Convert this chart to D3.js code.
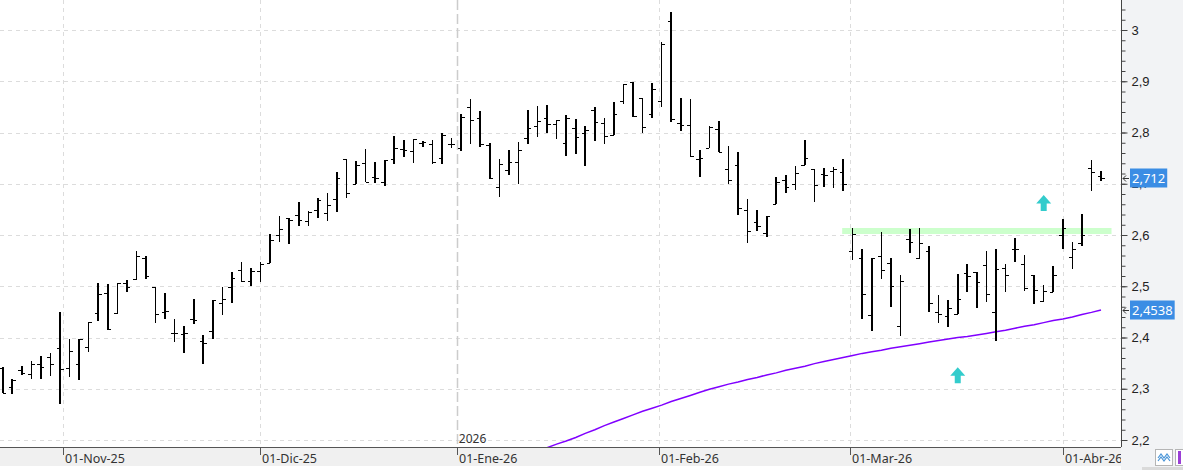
<!DOCTYPE html>
<html>
<head>
<meta charset="utf-8">
<script src="https://cdn.jsdelivr.net/npm/d3@7"></script>
<style>
  body { margin: 0; background: #fff; }
  svg { display: block; font-family: "Noto Sans", "DejaVu Sans", sans-serif; }
</style>
</head>
<body>
<div class="main"></div>
<script>
////Global Variables
const width = 1183;
const height = 470;
const plotRight = 1121;
const plotBottom = 447;

// daily bars, one per trading day
const opens = [2.340, 2.304, 2.336, 2.328, 2.348, 2.362, 2.379, 2.340, 2.348, 2.381,
  2.448, 2.486, 2.448, 2.507, 2.514, 2.556, 2.498, 2.450, 2.409, 2.406,
  2.437, 2.393, 2.413, 2.468, 2.498, 2.531, 2.510, 2.530, 2.545, 2.600,
  2.633, 2.639, 2.627, 2.649, 2.642, 2.670, 2.748, 2.699, 2.740, 2.714,
  2.703, 2.748, 2.768, 2.764, 2.779, 2.778, 2.750, 2.777, 2.769, 2.849,
  2.828, 2.776, 2.693, 2.727, 2.743, 2.789, 2.813, 2.828, 2.816, 2.779,
  2.808, 2.800, 2.843, 2.818, 2.796, 2.861, 2.899, 2.868, 2.837, 2.861,
  3.018, 2.819, 2.815, 2.748, 2.769, 2.806, 2.728, 2.737, 2.649, 2.625,
  2.603, 2.660, 2.707, 2.699, 2.737, 2.728, 2.719, 2.724, 2.722, 2.569,
  2.555, 2.444, 2.559, 2.546, 2.422, 2.592, 2.555, 2.569, 2.449, 2.442,
  2.445, 2.526, 2.527, 2.541, 2.449, 2.535, 2.572, 2.543, 2.522, 2.471,
  2.488, 2.600, 2.558, 2.584, 2.730, 2.715];
const highs = [2.342, 2.320, 2.344, 2.354, 2.364, 2.370, 2.450, 2.398, 2.397, 2.431,
  2.507, 2.504, 2.507, 2.512, 2.569, 2.559, 2.498, 2.487, 2.436, 2.422,
  2.475, 2.405, 2.473, 2.499, 2.527, 2.547, 2.535, 2.547, 2.601, 2.637,
  2.634, 2.664, 2.647, 2.673, 2.681, 2.722, 2.748, 2.744, 2.767, 2.742,
  2.746, 2.793, 2.785, 2.787, 2.783, 2.785, 2.800, 2.790, 2.837, 2.865,
  2.842, 2.779, 2.748, 2.766, 2.781, 2.844, 2.852, 2.854, 2.824, 2.834,
  2.826, 2.813, 2.849, 2.829, 2.859, 2.894, 2.899, 2.868, 2.897, 2.976,
  3.035, 2.867, 2.865, 2.766, 2.813, 2.822, 2.774, 2.761, 2.670, 2.649,
  2.637, 2.713, 2.718, 2.735, 2.785, 2.728, 2.730, 2.733, 2.748, 2.613,
  2.573, 2.555, 2.605, 2.555, 2.522, 2.612, 2.614, 2.579, 2.483, 2.473,
  2.524, 2.543, 2.527, 2.569, 2.573, 2.543, 2.595, 2.561, 2.522, 2.502,
  2.539, 2.631, 2.586, 2.641, 2.746, 2.725];
const lows = [2.291, 2.289, 2.326, 2.320, 2.320, 2.324, 2.270, 2.322, 2.317, 2.372,
  2.432, 2.414, 2.445, 2.489, 2.512, 2.514, 2.429, 2.437, 2.392, 2.370,
  2.426, 2.348, 2.398, 2.443, 2.467, 2.508, 2.501, 2.509, 2.545, 2.586,
  2.582, 2.618, 2.618, 2.634, 2.628, 2.644, 2.673, 2.699, 2.703, 2.701,
  2.696, 2.738, 2.753, 2.740, 2.772, 2.738, 2.738, 2.770, 2.763, 2.778,
  2.772, 2.709, 2.675, 2.718, 2.699, 2.778, 2.792, 2.800, 2.787, 2.755,
  2.758, 2.735, 2.784, 2.778, 2.796, 2.855, 2.830, 2.800, 2.828, 2.850,
  2.820, 2.802, 2.752, 2.714, 2.769, 2.761, 2.699, 2.640, 2.584, 2.608,
  2.596, 2.660, 2.681, 2.687, 2.737, 2.664, 2.694, 2.692, 2.686, 2.551,
  2.437, 2.413, 2.514, 2.460, 2.402, 2.564, 2.555, 2.450, 2.428, 2.420,
  2.445, 2.488, 2.458, 2.469, 2.394, 2.488, 2.547, 2.490, 2.465, 2.471,
  2.488, 2.572, 2.533, 2.579, 2.686, 2.705];
const closes = [2.292, 2.317, 2.330, 2.348, 2.342, 2.348, 2.338, 2.374, 2.397, 2.431,
  2.485, 2.417, 2.507, 2.499, 2.560, 2.520, 2.446, 2.452, 2.408, 2.408,
  2.434, 2.390, 2.473, 2.476, 2.517, 2.510, 2.530, 2.543, 2.590, 2.612,
  2.629, 2.629, 2.644, 2.668, 2.659, 2.711, 2.681, 2.736, 2.703, 2.712,
  2.746, 2.769, 2.766, 2.787, 2.781, 2.742, 2.795, 2.777, 2.830, 2.824,
  2.777, 2.711, 2.738, 2.743, 2.765, 2.808, 2.822, 2.816, 2.824, 2.828,
  2.791, 2.805, 2.820, 2.793, 2.837, 2.894, 2.833, 2.810, 2.884, 2.973,
  2.826, 2.815, 2.755, 2.750, 2.811, 2.761, 2.707, 2.653, 2.608, 2.618,
  2.637, 2.703, 2.693, 2.720, 2.750, 2.697, 2.717, 2.728, 2.699, 2.601,
  2.484, 2.555, 2.532, 2.500, 2.510, 2.586, 2.585, 2.468, 2.445, 2.457,
  2.476, 2.520, 2.508, 2.484, 2.533, 2.521, 2.572, 2.496, 2.493, 2.491,
  2.521, 2.613, 2.572, 2.600, 2.722, 2.712];

// moving average, starts at bar 57
const maStart = 57;
const maValues = [2.185, 2.192, 2.198, 2.205, 2.213, 2.220, 2.228, 2.235, 2.242, 2.249,
  2.256, 2.262, 2.268, 2.275, 2.281, 2.287, 2.293, 2.299, 2.304, 2.309,
  2.313, 2.318, 2.322, 2.327, 2.331, 2.336, 2.340, 2.344, 2.349, 2.353,
  2.357, 2.361, 2.365, 2.369, 2.372, 2.375, 2.379, 2.382, 2.385, 2.388,
  2.391, 2.394, 2.397, 2.400, 2.402, 2.405, 2.408, 2.411, 2.414, 2.418,
  2.422, 2.425, 2.429, 2.433, 2.436, 2.440, 2.445, 2.449, 2.4538];

const monthLabels = ['01-Nov-25', '01-Dic-25', '01-Ene-26', '01-Feb-26', '01-Mar-26', '01-Abr-26'];
const monthIndex = [6.33, 26.95, 47.55, 68.72, 88.72, 111];
const yearLabel = '2026';
const yearMonth = 2;

const yTicks = [2.2, 2.3, 2.4, 2.5, 2.6, 2.7, 2.8, 2.9, 3.0];

const resistanceLevel = 2.608;
const resistanceSpan = [87.9, 116.1];

const arrowIndex = [100, 109];
const arrowValue = [2.342, 2.678];

const lastValues = [2.712, 2.4538];
const lastTexts = ['2,712', '2,4538'];

const svg = d3.select('.main').append('svg')
  .attr('width', width)
  .attr('height', height);

const x = d3.scaleLinear()
  .domain([0, opens.length - 1])
  .range([2.7, 1101]);

const y = d3.scaleLinear()
  .domain([2.2, 3.0])
  .range([440, 30]);

const snap = v => Math.round(v) + 0.5;

svg.append('clipPath').attr('id', 'plot-clip')
  .append('rect').attr('x', 0).attr('y', 0).attr('width', plotRight).attr('height', plotBottom);

svg.append('clipPath').attr('id', 'label-clip')
  .append('rect').attr('x', 0).attr('y', plotBottom).attr('width', plotRight).attr('height', 20);

// panels
svg.append('rect').attr('x', plotRight).attr('y', 0).attr('width', width - plotRight).attr('height', height)
  .attr('fill', '#f2f3f5');
svg.append('rect').attr('x', 0).attr('y', plotBottom).attr('width', plotRight).attr('height', 19)
  .attr('fill', '#f0f0f0');
svg.append('rect').attr('x', 1142).attr('y', 467).attr('width', width - 1142).attr('height', 3)
  .attr('fill', '#dadada');

const plot = svg.append('g').attr('clip-path', 'url(#plot-clip)');

// grid
plot.selectAll('.hgrid')
  .data(yTicks)
  .enter()
  .append('line')
  .attr('class', 'hgrid')
  .attr('x1', 0).attr('x2', plotRight)
  .attr('y1', d => snap(y(d))).attr('y2', d => snap(y(d)))
  .attr('stroke', '#dcdcdc')
  .attr('stroke-dasharray', '4,4');

plot.selectAll('.vgrid')
  .data(monthIndex)
  .enter()
  .append('line')
  .attr('class', 'vgrid')
  .attr('x1', d => snap(x(d))).attr('x2', d => snap(x(d)))
  .attr('y1', 0).attr('y2', plotBottom)
  .attr('stroke', (d, i) => i === yearMonth ? '#cccccc' : '#dcdcdc')
  .attr('stroke-width', (d, i) => i === yearMonth ? 1.5 : 1)
  .attr('stroke-dasharray', (d, i) => i === yearMonth ? '10,4' : '4,4');

plot.append('text')
  .attr('x', x(monthIndex[yearMonth]) + 2)
  .attr('y', 443)
  .attr('font-size', 12)
  .attr('fill', '#333')
  .text(yearLabel);

// resistance band
plot.append('line')
  .attr('x1', x(resistanceSpan[0])).attr('x2', x(resistanceSpan[1]))
  .attr('y1', y(resistanceLevel)).attr('y2', y(resistanceLevel))
  .attr('stroke', '#ccffcc')
  .attr('stroke-width', 6);

// moving average
const maLine = d3.line()
  .x((d, k) => x(maStart + k))
  .y(d => y(d));

plot.append('path')
  .datum(maValues)
  .attr('d', maLine)
  .attr('fill', 'none')
  .attr('stroke', '#8000ff')
  .attr('stroke-width', 1.5);

// OHLC bars
const bars = plot.selectAll('.bar')
  .data(opens.map((o, i) => ({ i, o, h: highs[i], l: lows[i], c: closes[i] })))
  .enter()
  .append('g')
  .attr('class', 'bar')
  .attr('stroke', '#000')
  .attr('shape-rendering', 'crispEdges');

bars.append('line')
  .attr('x1', d => x(d.i)).attr('x2', d => x(d.i))
  .attr('y1', d => y(d.h)).attr('y2', d => y(d.l))
  .attr('stroke-width', 1.6);

bars.append('line')
  .attr('x1', d => x(d.i) - 3.5).attr('x2', d => x(d.i))
  .attr('y1', d => snap(y(d.o))).attr('y2', d => snap(y(d.o)))
  .attr('stroke-width', 1);

bars.append('line')
  .attr('x1', d => x(d.i)).attr('x2', d => x(d.i) + 3.5)
  .attr('y1', d => snap(y(d.c))).attr('y2', d => snap(y(d.c)))
  .attr('stroke-width', 1);

// signal arrows
plot.selectAll('.arrow')
  .data(arrowIndex)
  .enter()
  .append('path')
  .attr('class', 'arrow')
  .attr('d', (d, k) => {
    const cx = x(d), ty = y(arrowValue[k]);
    return `M${cx},${ty} L${cx + 7.5},${ty + 8.5} L${cx + 3},${ty + 8.5} L${cx + 3},${ty + 16}
            L${cx - 3},${ty + 16} L${cx - 3},${ty + 8.5} L${cx - 7.5},${ty + 8.5} Z`;
  })
  .attr('fill', '#33cccc');

// x axis
svg.append('line')
  .attr('x1', 0).attr('x2', plotRight)
  .attr('y1', plotBottom + 0.5).attr('y2', plotBottom + 0.5)
  .attr('stroke', '#555');

svg.selectAll('.xtick')
  .data(monthIndex)
  .enter()
  .append('line')
  .attr('class', 'xtick')
  .attr('x1', d => snap(x(d))).attr('x2', d => snap(x(d)))
  .attr('y1', plotBottom).attr('y2', plotBottom + 8)
  .attr('stroke', '#555');

svg.append('g')
  .attr('clip-path', 'url(#label-clip)')
  .selectAll('text')
  .data(monthLabels)
  .enter()
  .append('text')
  .attr('x', (d, i) => Math.round(x(monthIndex[i])) + 2)
  .attr('y', 463)
  .attr('font-size', 12.5)
  .attr('fill', '#333')
  .text(d => d);

// y axis
const fmt = d => String(+d.toFixed(1)).replace('.', ',');

const minorAxis = d3.axisRight(y)
  .tickValues(d3.range(2.18, 3.05, 0.02).filter(v => y(v) >= 0 && y(v) <= plotBottom))
  .tickSize(4)
  .tickFormat('');

svg.append('g')
  .attr('transform', `translate(${plotRight + 0.5}, 0)`)
  .call(minorAxis)
  .call(g => g.select('.domain').remove())
  .call(g => g.selectAll('line').attr('stroke', '#444'));

const yAxis = d3.axisRight(y)
  .tickValues(yTicks)
  .tickSize(6)
  .tickPadding(4)
  .tickFormat(fmt);

svg.append('g')
  .attr('transform', `translate(${plotRight + 0.5}, 0)`)
  .call(yAxis)
  .call(g => g.select('.domain').remove())
  .call(g => g.selectAll('line').attr('stroke', '#444'))
  .call(g => g.selectAll('text').attr('font-size', 13).attr('fill', '#222').attr('font-family', null));

svg.append('line')
  .attr('x1', plotRight + 0.5).attr('x2', plotRight + 0.5)
  .attr('y1', 0).attr('y2', plotBottom)
  .attr('stroke', '#444');

// last value labels
const tags = svg.selectAll('.tag')
  .data(lastValues)
  .enter()
  .append('g')
  .attr('class', 'tag')
  .attr('transform', d => `translate(0, ${Math.round(y(d))})`);

const tagBoxes = tags.append('rect')
  .attr('x', 1130)
  .attr('y', -9.5)
  .attr('height', 19)
  .attr('fill', '#3b8de4');

const tagTexts = tags.append('text')
  .attr('x', 1132)
  .attr('y', 4.5)
  .attr('font-size', 13)
  .attr('fill', '#fff')
  .text((d, i) => lastTexts[i]);

tagBoxes.attr('width', (d, i) => tagTexts.nodes()[i].getComputedTextLength() + 4);

tags.append('path')
  .attr('d', 'M1129,0.5 H1123 M1126,-2.5 L1123,0.5 L1126,3.5')
  .attr('fill', 'none')
  .attr('stroke', '#333');

// corner buttons
svg.append('rect').attr('x', 1155.5).attr('y', 449.5).attr('width', 17).attr('height', 16)
  .attr('fill', '#fff').attr('stroke', '#b5b5b5');
svg.append('path').attr('d', 'M1158,458 L1161,454 L1164,458 L1167,454 L1170,458 M1158,461 L1161,457 L1164,461 L1167,457 L1170,461')
  .attr('fill', 'none').attr('stroke', '#4a95d8').attr('stroke-width', 1.2);
svg.append('rect').attr('x', 1175.5).attr('y', 449.5).attr('width', 10).attr('height', 16)
  .attr('fill', '#fff').attr('stroke', '#b5b5b5');
svg.append('rect').attr('x', 1178).attr('y', 451).attr('width', 3).attr('height', 13)
  .attr('fill', '#9b3fd6');
</script>
</body>
</html>
